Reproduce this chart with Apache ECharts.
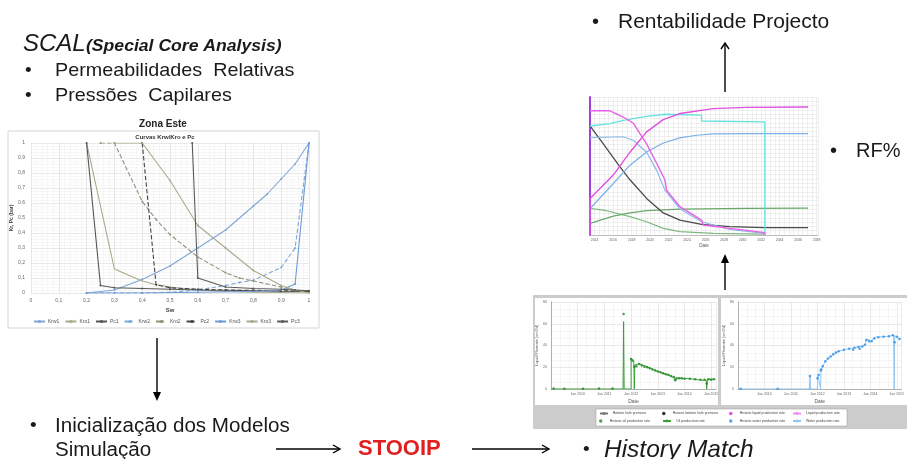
<!DOCTYPE html>
<html><head><meta charset="utf-8">
<script src="https://cdn.jsdelivr.net/npm/echarts@6/dist/echarts.min.js"></script>
<style>html,body{margin:0;padding:0;background:#fff}#c{width:907px;height:459px}</style>
</head><body><div id="c"></div>
<script>
// ---------- SCAL (Curvas Krw/Kro e Pc) ----------
const scalNames = ['Krw1','Kro1','Pc1','Krw2','Kro2','Pc2','Krw3','Kro3','Pc3'];
const krw1 = [[0.2,0],[0.3,0.02],[0.4,0.09],[0.5,0.18],[0.6,0.3],[0.7,0.42],[0.8,0.58],[0.85,0.66],[0.9,0.76],[0.95,0.86],[1,1]];
const kro1 = [[0.2,1],[0.3,0.16],[0.4,0.08],[0.45,0.055],[0.5,0.04],[0.6,0.02],[0.7,0.01],[0.8,0.006],[0.9,0.003],[1,0]];
const pc1  = [[0.2,1],[0.25,0.05],[0.3,0.035],[0.4,0.03],[0.5,0.025],[0.6,0.02],[0.7,0.018],[0.8,0.015],[0.9,0.012],[1,0.01]];
const krw2 = [[0.2,0],[0.3,0],[0.4,0],[0.5,0.005],[0.6,0.02],[0.7,0.05],[0.75,0.07],[0.8,0.085],[0.9,0.17],[0.95,0.3],[1,1]];
const kro2 = [[0.25,1],[0.3,1],[0.4,0.61],[0.45,0.49],[0.5,0.39],[0.6,0.24],[0.7,0.135],[0.75,0.1],[0.8,0.08],[0.9,0.04],[0.95,0.02],[1,0.01]];
const pc2  = [[0.4,1],[0.45,0.055],[0.5,0.035],[0.6,0.025],[0.7,0.02],[0.8,0.018],[0.9,0.015],[1,0.012]];
const krw3 = [[0.2,0],[0.4,0],[0.6,0.005],[0.8,0.01],[0.9,0.02],[0.95,0.06],[1,1]];
const kro3 = [[0.3,1],[0.4,1],[0.5,0.75],[0.6,0.45],[0.7,0.3],[0.8,0.15],[0.9,0.05],[0.95,0.02],[1,0]];
const pc3  = [[0.58,1],[0.6,0.1],[0.7,0.04],[0.8,0.03],[0.9,0.025],[0.95,0.02],[1,0.015]];
const scalData = [krw1,kro1,pc1,krw2,kro2,pc2,krw3,kro3,pc3];

// ---------- RF% chart ----------
const rfYearLabels = [2014,2016,2018,2020,2022,2024,2026,2028,2030,2032,2034,2036,2038];
const rfLiquidCum  = [[2013.5,0],[2013.5,0.265],[2016.02,0.434],[2017.82,0.60],[2019.62,0.747],[2021.42,0.836],[2023.22,0.88],[2026.82,0.916],[2030.42,0.925],[2037.08,0.928]];
const rfLiquidRate = [[2013.5,0.9],[2015.66,0.9],[2017.1,0.855],[2018.18,0.81],[2018.9,0.735],[2019.62,0.66],[2020.7,0.52],[2021.6,0.4],[2021.78,0.325],[2023.22,0.205],[2025.56,0.108],[2025.74,0.072],[2028.62,0.048],[2032.4,0.017],[2032.4,0]];
const rfWaterCut   = [[2013.5,0.79],[2015.66,0.807],[2017.1,0.83],[2019.62,0.86],[2021.6,0.875],[2021.6,0.862],[2025.56,0.868],[2025.56,0.826],[2032.4,0.82],[2032.4,0]];
const rfWaterCum   = [[2013.5,0.19],[2016.02,0.373],[2017.82,0.506],[2019.62,0.602],[2021.42,0.667],[2023.22,0.704],[2025.02,0.723],[2026.82,0.733],[2030.42,0.735],[2037.08,0.735]];
const rfWaterRate  = [[2013.5,0.706],[2017.1,0.712],[2018.18,0.687],[2019.62,0.6],[2020.7,0.47],[2021.6,0.325],[2023.22,0.19],[2025.56,0.096],[2028.62,0.04],[2032.4,0.012]];
const rfPressure   = [[2013.5,0.79],[2014.94,0.66],[2016.74,0.494],[2017.82,0.4],[2019.62,0.265],[2021.42,0.16],[2023.22,0.108],[2025.56,0.077],[2028.62,0.06],[2032.4,0.053],[2037.08,0.053]];
const rfOilCum     = [[2013.5,0.084],[2016.02,0.137],[2017.82,0.16],[2019.62,0.176],[2023.22,0.188],[2030.42,0.193],[2037.08,0.195]];
const rfOilRate    = [[2013.5,0.193],[2015.3,0.176],[2017.82,0.133],[2019.62,0.096],[2021.42,0.048],[2023.22,0.024],[2026.82,0.012],[2032.4,0.007]];

// ---------- History match ----------
const hmYears = [2010,2011,2012,2013,2014,2015];
const hmYearLabels = ['Jan 2010','Jan 2011','Jan 2012','Jan 2013','Jan 2014','Jan 2015'];
const hmOilHist = [[2009.1,0.5],[2009.5,0.3],[2010.2,0.3],[2010.8,0.5],[2011.3,0.4],[2011.72,69],[2012.0,27.5],[2012.05,26],[2012.12,20.5],[2012.2,21],[2012.3,23],[2012.4,21.5],[2012.5,20.5],[2012.6,20],[2012.7,19],[2012.8,18],[2012.9,17],[2013.0,16],[2013.1,15.5],[2013.2,14.5],[2013.3,13.5],[2013.4,13],[2013.5,12],[2013.6,11],[2013.65,8],[2013.7,10],[2013.8,10],[2013.9,10],[2014.0,9.5],[2014.2,9.5],[2014.4,9],[2014.6,8.5],[2014.75,8.5],[2014.83,5],[2014.9,9],[2015.0,8.5],[2015.1,9]];
const hmOilSim = [[2009,0],[2011.7,0],[2011.72,62],[2011.74,0],[2012.0,0],[2012.0,28.4],[2012.1,26],[2012.12,0],[2012.14,22],[2012.3,23.2],[2012.6,20.4],[2012.97,16.5],[2013.3,13.5],[2013.6,10.6],[2013.65,7.7],[2013.75,10],[2014.2,9.5],[2014.6,8.2],[2014.82,8],[2014.83,0],[2014.86,9],[2015.15,9]];
const hmWaterHist = [[2009.1,0.3],[2010.5,0.3],[2011.72,12],[2012.0,10],[2012.05,13],[2012.12,17],[2012.15,18],[2012.2,21],[2012.3,25.6],[2012.4,28],[2012.5,30],[2012.6,32],[2012.7,33.5],[2012.8,34.8],[2013.0,36],[2013.2,37],[2013.35,36],[2013.4,38],[2013.55,38.7],[2013.6,37],[2013.7,39],[2013.8,40.6],[2013.85,45],[2013.95,44],[2014.05,44],[2014.15,46.5],[2014.3,47.5],[2014.5,48],[2014.7,48.5],[2014.85,49.5],[2014.92,43],[2015.0,48],[2015.1,46]];
const hmWaterSim = [[2009,0],[2011.7,0],[2011.72,12.2],[2011.74,0],[2012.0,0],[2012.02,12.8],[2012.12,0],[2012.14,18],[2012.3,25.6],[2012.5,30],[2012.8,34.8],[2013.2,37],[2013.55,38.7],[2013.8,40.6],[2013.85,46],[2014.05,44],[2014.15,47.6],[2014.7,48.5],[2014.88,49.5],[2014.9,0],[2014.92,49],[2015.15,46]];
const hmLegendRow1 = ['Bottom hole pressure','Historic bottom hole pressure','Historic liquid production rate','Liquid production rate'];
const hmLegendRow2 = ['Historic oil production rate','Oil production rate','Historic water production rate','Water production rate'];

// ---------- build ----------
const FF = '"Liberation Sans", Arial, sans-serif';
const chart = echarts.init(document.getElementById('c'), null, {renderer:'canvas'});
const comma = v => (v === 0 || v === 1) ? String(v) : v.toFixed(1).replace('.', ',');

const scalColor = ['#7ea6d6','#a6aa8c','#555555','#7ea6d6','#8f9478','#444444','#6e9ad6','#a6aa8c','#5a5a5a'];
const scalDash  = ['solid','solid','solid','dashed','dashed','dashed','solid','solid','solid'];
const scalSym   = ['circle','none','circle','circle','circle','circle','circle','circle','circle'];

const series = [];
scalNames.forEach((n,i) => series.push({
  name:n, type:'line', xAxisIndex:0, yAxisIndex:0, data:scalData[i],
  symbol:scalSym[i], symbolSize:2, showSymbol:true,
  lineStyle:{color:scalColor[i], width:1.1, type:scalDash[i]},
  itemStyle:{color:scalColor[i]}, animation:false, z:3
}));

function rfLine(data, color, width, z){
  return {type:'line', xAxisIndex:1, yAxisIndex:1, data, symbol:'none',
    lineStyle:{color, width: width||1.2}, animation:false, z: z||3};
}
series.push(rfLine(rfOilRate,'#7fb87f',1.2));
series.push(rfLine(rfOilCum,'#6aa86a',1.2));
series.push(rfLine(rfPressure,'#4a4a4a',1.3));
series.push(rfLine(rfWaterRate,'#8db9e8',1.2));
series.push(rfLine(rfWaterCum,'#7ab0e6',1.2));
series.push(rfLine(rfWaterCut,'#66e0e0',1.3));
series.push(rfLine(rfLiquidRate,'#e860e8',1.4));
series.push(rfLine(rfLiquidCum,'#e050e0',1.4));

// history match left (oil) and right (water)
series.push({name:'Oil production rate', type:'line', xAxisIndex:2, yAxisIndex:2, data:hmOilSim, symbol:'none',
  lineStyle:{color:'#3aa03a', width:1}, itemStyle:{color:'#3aa03a'}, animation:false, z:3});
series.push({name:'Historic oil production rate', type:'scatter', xAxisIndex:2, yAxisIndex:2, data:hmOilHist,
  symbol:'circle', symbolSize:2.5, itemStyle:{color:'#1e8a1e'}, animation:false, z:4});
series.push({name:'Water production rate', type:'line', xAxisIndex:3, yAxisIndex:3, data:hmWaterSim, symbol:'none',
  lineStyle:{color:'#8ec6f4', width:1}, itemStyle:{color:'#8ec6f4'}, animation:false, z:3});
series.push({name:'Historic water production rate', type:'scatter', xAxisIndex:3, yAxisIndex:3, data:hmWaterHist,
  symbol:'circle', symbolSize:2.5, itemStyle:{color:'#2d8fe8'}, animation:false, z:4});
// legend-only entries (no data drawn in these panels)
series.push({name:'Bottom hole pressure', type:'line', xAxisIndex:2, yAxisIndex:2, data:[], lineStyle:{color:'#777'}, itemStyle:{color:'#777'}, symbol:'none'});
series.push({name:'Historic bottom hole pressure', type:'scatter', xAxisIndex:2, yAxisIndex:2, data:[], itemStyle:{color:'#000'}});
series.push({name:'Historic liquid production rate', type:'scatter', xAxisIndex:2, yAxisIndex:2, data:[], itemStyle:{color:'#e020e0'}});
series.push({name:'Liquid production rate', type:'line', xAxisIndex:2, yAxisIndex:2, data:[], lineStyle:{color:'#f08cf0'}, itemStyle:{color:'#f08cf0'}, symbol:'none'});

const legends = [{
  data:scalNames, left:33, top:319, padding:0, itemWidth:11, itemHeight:4, itemGap:5,
  textStyle:{fontSize:5, color:'#555', fontFamily:FF, padding:[0,0,0,-2]}, selectedMode:false
}];
const colX = [599,662,729,792];
hmLegendRow1.forEach((n,i)=>legends.push({data:[n], left:colX[i], top:411.5, padding:0, itemWidth:8, itemHeight:3.5, itemGap:2,
  textStyle:{fontSize:3.5, color:'#444', fontFamily:FF}, selectedMode:false}));
hmLegendRow2.forEach((n,i)=>legends.push({data:[n], left:colX[i], top:419, padding:0, itemWidth:8, itemHeight:3.5, itemGap:2,
  textStyle:{fontSize:3.5, color:'#444', fontFamily:FF}, selectedMode:false}));

const gridLine = c => ({show:true, lineStyle:{color:c, width:0.6}});
const tiny = (fs) => ({fontSize:fs, color:'#666', fontFamily:FF});

const xAxis = [
  {gridIndex:0, type:'value', min:0, max:1, interval:0.1,
   axisLine:{show:false}, axisTick:{show:false},
   axisLabel:{...tiny(5), margin:5, formatter:comma},
   splitLine:gridLine('#d8d8d8'), minorTick:{show:false, splitNumber:5}, minorSplitLine:{show:true, lineStyle:{color:'#efefef', width:0.5}},
   name:'Sw', nameLocation:'middle', nameGap:14, nameTextStyle:{fontSize:6, fontWeight:'bold', color:'#444', fontFamily:FF}},
  {gridIndex:1, type:'value', min:2013.5, max:2038.15, interval:0.5,
   axisLine:{show:true, lineStyle:{color:'#999', width:0.6}}, axisTick:{show:false},
   axisLabel:{...tiny(3.5), margin:3, formatter:v => rfYearLabels.includes(v) ? String(v) : ''},
   splitLine:gridLine('#e4e4e4'),
   name:'Date', nameLocation:'middle', nameGap:8, nameTextStyle:{fontSize:4.5, color:'#555', fontFamily:FF}},
  {gridIndex:2, type:'value', min:2009, max:2015.18, interval:1,
   axisLine:{show:true, lineStyle:{color:'#888', width:0.6}}, axisTick:{show:false},
   axisLabel:{...tiny(3.5), margin:3, formatter:v => {const k = hmYears.indexOf(v); return k>=0 ? hmYearLabels[k] : '';}},
   splitLine:gridLine('#dcdcdc'), minorTick:{show:false, splitNumber:3}, minorSplitLine:{show:true, lineStyle:{color:'#ececec', width:0.5}},
   name:'Date', nameLocation:'middle', nameGap:10, nameTextStyle:{fontSize:5, color:'#555', fontFamily:FF}},
  {gridIndex:3, type:'value', min:2009, max:2015.18, interval:1,
   axisLine:{show:true, lineStyle:{color:'#888', width:0.6}}, axisTick:{show:false},
   axisLabel:{...tiny(3.5), margin:3, formatter:v => {const k = hmYears.indexOf(v); return k>=0 ? hmYearLabels[k] : '';}},
   splitLine:gridLine('#dcdcdc'), minorTick:{show:false, splitNumber:3}, minorSplitLine:{show:true, lineStyle:{color:'#ececec', width:0.5}},
   name:'Date', nameLocation:'middle', nameGap:10, nameTextStyle:{fontSize:5, color:'#555', fontFamily:FF}}
];
const yAxis = [
  {gridIndex:0, type:'value', min:0, max:1, interval:0.1,
   axisLine:{show:false}, axisTick:{show:false},
   axisLabel:{...tiny(5), margin:6, formatter:comma},
   splitLine:gridLine('#d8d8d8'), minorTick:{show:false, splitNumber:5}, minorSplitLine:{show:true, lineStyle:{color:'#efefef', width:0.5}},
   name:'Kr, Pc (bar)', nameLocation:'middle', nameGap:16, nameRotate:90, nameTextStyle:{fontSize:5, fontWeight:'bold', color:'#444', fontFamily:FF}},
  {gridIndex:1, type:'value', min:0, max:1, interval:0.03125,
   axisLine:{show:true, lineStyle:{color:'#a040e0', width:2}}, axisTick:{show:false}, axisLabel:{show:false},
   splitLine:gridLine('#e4e4e4')},
  {gridIndex:2, type:'value', min:0, max:80, interval:20,
   axisLine:{show:true, lineStyle:{color:'#888', width:0.6}}, axisTick:{show:false},
   axisLabel:{...tiny(3.5), margin:4},
   splitLine:gridLine('#dcdcdc'), minorTick:{show:false, splitNumber:3}, minorSplitLine:{show:true, lineStyle:{color:'#ececec', width:0.5}},
   name:'Liquid Flowrate [sm3/d]', nameLocation:'middle', nameGap:10, nameTextStyle:{fontSize:4, color:'#555', fontFamily:FF}},
  {gridIndex:3, type:'value', min:0, max:80, interval:20,
   axisLine:{show:true, lineStyle:{color:'#888', width:0.6}}, axisTick:{show:false},
   axisLabel:{...tiny(3.5), margin:4},
   splitLine:gridLine('#dcdcdc'), minorTick:{show:false, splitNumber:3}, minorSplitLine:{show:true, lineStyle:{color:'#ececec', width:0.5}},
   name:'Liquid Flowrate [sm3/d]', nameLocation:'middle', nameGap:10, nameTextStyle:{fontSize:4, color:'#555', fontFamily:FF}}
];

function txt(x, y, text, font, fill, align, sx){
  return {type:'text', x, y, scaleX: sx||1, z:50, silent:true,
    style:{text, font, fill: fill||'#1a1a1a', align: align||'left', verticalAlign:'middle'}};
}
function line(x1,y1,x2,y2){
  return {type:'line', z:50, silent:true, shape:{x1,y1,x2,y2}, style:{stroke:'#000', lineWidth:1.4}};
}
function head(points, filled){
  return filled
    ? {type:'polygon', z:50, silent:true, shape:{points}, style:{fill:'#000'}}
    : {type:'polyline', z:50, silent:true, shape:{points}, style:{stroke:'#000', lineWidth:1.4, fill:null}};
}

const graphic = [
  {type:'rect', z:-10, silent:true, shape:{x:8,y:131,width:311,height:197}, style:{fill:'#fff', stroke:'#d4d4d4', lineWidth:1}},
  {type:'rect', z:-10, silent:true, shape:{x:533,y:295,width:374,height:134}, style:{fill:'#cccccc'}},
  {type:'rect', z:-9, silent:true, shape:{x:535,y:298,width:183,height:107}, style:{fill:'#fff'}},
  {type:'rect', z:-9, silent:true, shape:{x:721,y:298,width:186,height:107}, style:{fill:'#fff'}},
  {type:'rect', z:-9, silent:true, shape:{x:596,y:409,width:251,height:17}, style:{fill:'#fff', stroke:'#999', lineWidth:0.5}},
  // titles of SCAL chart
  txt(163,124,'Zona Este','bold 10px '+FF,'#222','center'),
  txt(165,137,'Curvas Krw/Kro e Pc','bold 6px '+FF,'#333','center'),
  // texts
  txt(23,44,'SCAL','italic 24px '+FF,'#1a1a1a'),
  txt(86,47,'(Special Core Analysis)','italic bold 16px '+FF,'#1a1a1a','left',1.1),
  txt(25,71,'•','19px '+FF),
  txt(55,71,'Permeabilidades  Relativas','19px '+FF,'#1a1a1a','left',1.04),
  txt(25,96,'•','19px '+FF),
  txt(55,96,'Pressões  Capilares','19px '+FF,'#1a1a1a','left',1.04),
  txt(592,22,'•','20px '+FF),
  txt(618,22,'Rentabilidade Projecto','21px '+FF),
  txt(830,151,'•','20px '+FF),
  txt(856,151,'RF%','20px '+FF),
  txt(30,426,'•','19px '+FF),
  txt(55,426,'Inicialização dos Modelos','20px '+FF,'#1a1a1a','left',1.03),
  txt(55,450,'Simulação','20px '+FF,'#1a1a1a','left',1.03),
  txt(358,449,'STOOIP','bold 22px '+FF,'#e02020'),
  txt(583,450,'•','19px '+FF),
  txt(604,450,'History Match','italic 24px '+FF,'#1a1a1a','left',1.02),
  // arrows
  line(725,92,725,44), head([[721,49],[725,43],[729,49]], false),
  line(725,290,725,260), head([[725,254],[721,263],[729,263]], true),
  line(157,338,157,396), head([[157,401],[153,392],[161,392]], true),
  line(276,449,339,449), head([[333,445],[340,449],[333,453]], false),
  line(472,449,548,449), head([[542,445],[549,449],[542,453]], false)
];

chart.setOption({
  animation:false,
  backgroundColor:'#ffffff',
  grid:[
    {left:31, top:143, width:278, height:150},
    {left:590, top:97, width:228, height:138},
    {left:551, top:302, width:165, height:87},
    {left:738, top:302, width:165, height:87}
  ],
  xAxis, yAxis, series, legend:legends, graphic
});
</script>
</body></html>
